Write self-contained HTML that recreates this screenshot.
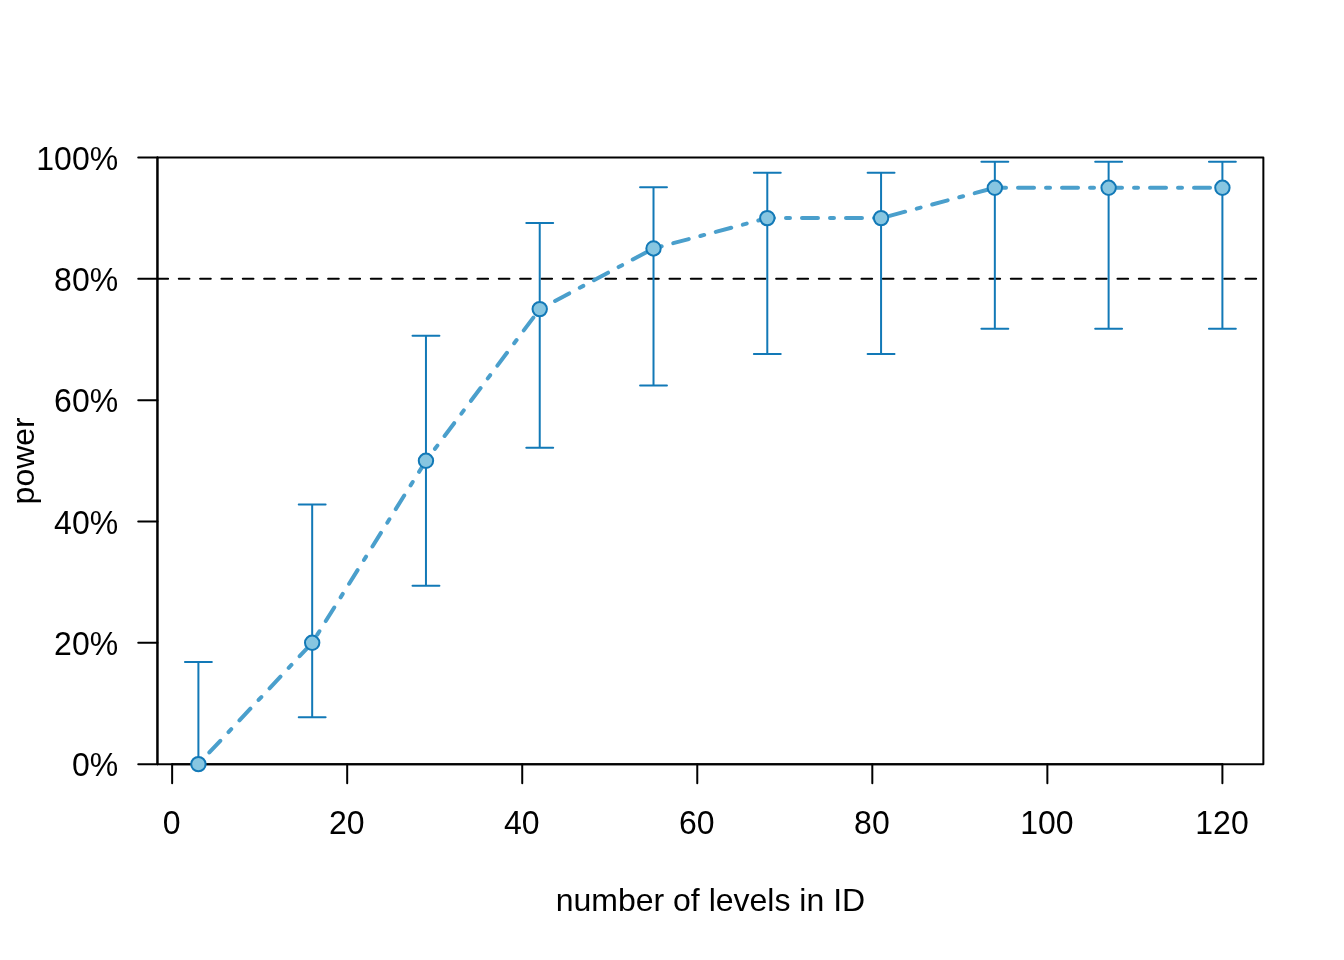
<!DOCTYPE html>
<html lang="en"><head><meta charset="utf-8"><title>power curve</title>
<style>html,body{margin:0;padding:0;background:#fff}body{width:1344px;height:960px;overflow:hidden}svg{display:block}text{font-family:"Liberation Sans",Arial,Helvetica,sans-serif;font-size:32px;fill:#000}</style></head><body>
<svg width="1344" height="960" viewBox="0 0 1344 960">
<rect width="1344" height="960" fill="#fff"/>
<g fill="none" stroke="#000" stroke-width="2" stroke-linecap="round" stroke-linejoin="round">
<line x1="157.44" y1="278.78" x2="1263.36" y2="278.78" stroke-dasharray="10.667 10.667"/>
<rect x="157.44" y="157.44" width="1105.92" height="606.72"/>
<path d="M172.14 764.16H1222.40"/>
<path d="M172.14 764.16v19.20"/>
<path d="M347.19 764.16v19.20"/>
<path d="M522.23 764.16v19.20"/>
<path d="M697.27 764.16v19.20"/>
<path d="M872.31 764.16v19.20"/>
<path d="M1047.36 764.16v19.20"/>
<path d="M1222.40 764.16v19.20"/>
<path d="M157.44 764.16V157.44"/>
<path d="M157.44 764.16h-19.20"/>
<path d="M157.44 642.82h-19.20"/>
<path d="M157.44 521.47h-19.20"/>
<path d="M157.44 400.13h-19.20"/>
<path d="M157.44 278.78h-19.20"/>
<path d="M157.44 157.44h-19.20"/>
</g>
<text transform="translate(171.74 834.13) scale(1,1.045)" text-anchor="middle">0</text>
<text transform="translate(346.79 834.13) scale(1,1.045)" text-anchor="middle">20</text>
<text transform="translate(521.83 834.13) scale(1,1.045)" text-anchor="middle">40</text>
<text transform="translate(696.87 834.13) scale(1,1.045)" text-anchor="middle">60</text>
<text transform="translate(871.91 834.13) scale(1,1.045)" text-anchor="middle">80</text>
<text transform="translate(1046.96 834.13) scale(1,1.045)" text-anchor="middle">100</text>
<text transform="translate(1222.00 834.13) scale(1,1.045)" text-anchor="middle">120</text>
<text transform="translate(118.14 776.46) scale(1,1.045)" text-anchor="end">0%</text>
<text transform="translate(118.14 655.12) scale(1,1.045)" text-anchor="end">20%</text>
<text transform="translate(118.14 533.77) scale(1,1.045)" text-anchor="end">40%</text>
<text transform="translate(118.14 412.43) scale(1,1.045)" text-anchor="end">60%</text>
<text transform="translate(118.14 291.08) scale(1,1.045)" text-anchor="end">80%</text>
<text transform="translate(118.14 169.74) scale(1,1.045)" text-anchor="end">100%</text>
<text x="710.40" y="910.93" text-anchor="middle">number of levels in ID</text>
<text transform="translate(34.16 460.80) rotate(-90)" text-anchor="middle">power</text>
<g fill="none" stroke="#1279b7" stroke-width="2" stroke-linecap="round" stroke-linejoin="round">
<path d="M198.40 764.16V661.97M184.96 661.97h26.88"/>
<path d="M312.18 717.36V504.58M298.74 504.58h26.88M298.74 717.36h26.88"/>
<path d="M425.96 585.85V335.75M412.52 335.75h26.88M412.52 585.85h26.88"/>
<path d="M539.73 447.69V223.00M526.29 223.00h26.88M526.29 447.69h26.88"/>
<path d="M653.51 385.47V187.27M640.07 187.27h26.88M640.07 385.47h26.88"/>
<path d="M767.29 353.90V172.69M753.85 172.69h26.88M753.85 353.90h26.88"/>
<path d="M881.07 353.90V172.69M867.63 172.69h26.88M867.63 353.90h26.88"/>
<path d="M994.84 328.66V161.68M981.40 161.68h26.88M981.40 328.66h26.88"/>
<path d="M1108.62 328.66V161.68M1095.18 161.68h26.88M1095.18 328.66h26.88"/>
<path d="M1222.40 328.66V161.68M1208.96 161.68h26.88M1208.96 328.66h26.88"/>
</g>
<polyline points="198.40,764.16 312.18,642.82 425.96,460.80 539.73,309.12 653.51,248.45 767.29,218.11 881.07,218.11 994.84,187.78 1108.62,187.78 1222.40,187.78" fill="none" stroke="#4a9fcc" stroke-width="4" stroke-linecap="round" stroke-linejoin="round" stroke-dasharray="4 12 16 12"/>
<g fill="#87c6e1" stroke="#1279b7" stroke-width="2">
<circle cx="198.40" cy="764.16" r="7.2"/>
<circle cx="312.18" cy="642.82" r="7.2"/>
<circle cx="425.96" cy="460.80" r="7.2"/>
<circle cx="539.73" cy="309.12" r="7.2"/>
<circle cx="653.51" cy="248.45" r="7.2"/>
<circle cx="767.29" cy="218.11" r="7.2"/>
<circle cx="881.07" cy="218.11" r="7.2"/>
<circle cx="994.84" cy="187.78" r="7.2"/>
<circle cx="1108.62" cy="187.78" r="7.2"/>
<circle cx="1222.40" cy="187.78" r="7.2"/>
</g>
</svg></body></html>
